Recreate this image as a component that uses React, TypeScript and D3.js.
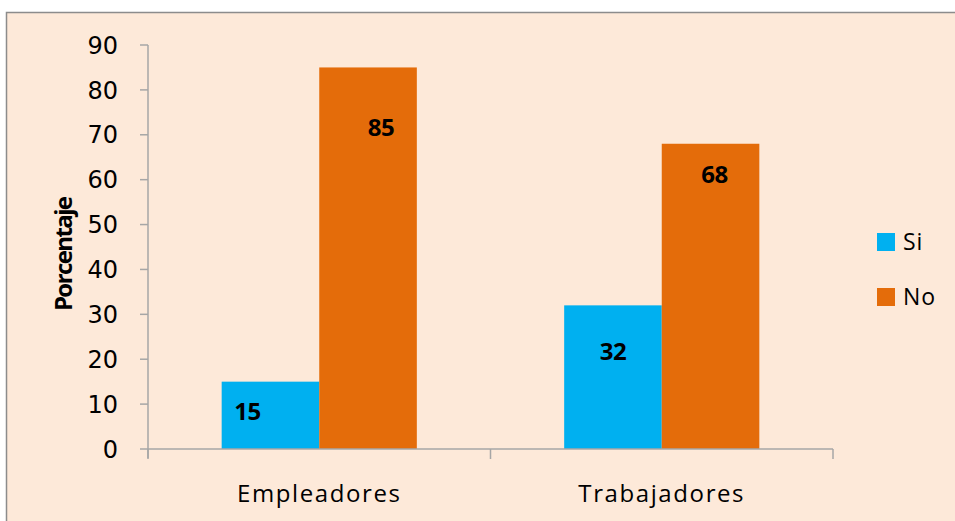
import React from "react";
import * as d3 from "d3";

const categories = ["Empleadores", "Trabajadores"];
const seriesNames = ["Si", "No"];
const siValues = [15, 32];
const noValues = [85, 68];
const yTicks = [0, 10, 20, 30, 40, 50, 60, 70, 80, 90];
const colors = ["#00B0F0", "#E46C0A"];
// manual label nudges (dx, dy below bar top), per [category][series]
const labelNudge = [
  [[-23, 30], [13, 60]],
  [[0, 46], [4, 31]],
];

export default function App() {
  const W = 955, H = 521;
  const x0 = 148, x1 = 833, yTop = 45, yBot = 449;
  const y = d3.scaleLinear().domain([0, 90]).range([yBot, yTop]);
  const xb = d3.scaleBand().domain(categories).range([x0, x1]).paddingInner(0).paddingOuter(0);
  const xs = d3.scaleBand().domain(seriesNames).range([0, xb.bandwidth()]).paddingInner(0).paddingOuter(0.755);
  const values = [siValues, noValues];
  return (
    <svg width={W} height={H} style={{ position: "absolute", left: 0, top: 0 }}>
      <rect x={6.5} y={12.5} width={W} height={H} fill="#FDE9D9" stroke="#8c8c8c" strokeWidth={1.5} />
      {/* bars */}
      {categories.map((c, ci) =>
        seriesNames.map((s, si) => {
          const v = values[si][ci];
          const bx = (xb(c) as number) + (xs(s) as number);
          return (
            <rect key={c + s} x={bx} y={y(v)} width={xs.bandwidth()} height={yBot - y(v)} fill={colors[si]} />
          );
        })
      )}
      {/* y axis */}
      <line x1={x0} x2={x0} y1={yTop} y2={458} stroke="#A6A6A6" strokeWidth={1.5} />
      {yTicks.map((t) => (
        <g key={t}>
          <line x1={140} x2={x0} y1={y(t)} y2={y(t)} stroke="#A6A6A6" strokeWidth={1.5} />
          <text x={118} y={y(t)} dy="0.36em" textAnchor="end" fontFamily="DejaVu Sans" fontSize={24} fill="#000">
            {t}
          </text>
        </g>
      ))}
      {/* x axis */}
      <line x1={x0} x2={x1} y1={yBot} y2={yBot} stroke="#A6A6A6" strokeWidth={1.5} />
      {[...categories.map((c) => xb(c) as number), x1].map((tx, i) => (
        <line key={i} x1={tx} x2={tx} y1={yBot} y2={459} stroke="#A6A6A6" strokeWidth={1.5} />
      ))}
      {categories.map((c) => (
        <text key={c} x={(xb(c) as number) + xb.bandwidth() / 2} y={494} dy="0.35em" textAnchor="middle"
          fontFamily="Open Sans" fontSize={24} letterSpacing={1.6} fill="#000">
          {c}
        </text>
      ))}
      {/* data labels */}
      {categories.map((c, ci) =>
        seriesNames.map((s, si) => {
          const v = values[si][ci];
          const bx = (xb(c) as number) + (xs(s) as number) + xs.bandwidth() / 2;
          const [dx, dy] = labelNudge[ci][si];
          return (
            <text key={"l" + c + s} x={bx + dx} y={y(v) + dy} dy="0.35em" textAnchor="middle"
              fontFamily="Open Sans" fontWeight="bold" fontSize={24} letterSpacing={-0.5} fill="#000">
              {v}
            </text>
          );
        })
      )}
      {/* y title */}
      <text transform={`translate(64,${y(30) - 60}) rotate(-90)`} textAnchor="middle" dy="0.35em"
        fontFamily="Open Sans" fontWeight="bold" fontSize={24} letterSpacing={-1.6} fill="#000">
        Porcentaje
      </text>
      {/* legend */}
      {seriesNames.map((s, i) => (
        <g key={s} transform={`translate(877,${233 + i * 55})`}>
          <rect width={18} height={18} fill={colors[i]} />
          <text x={26} y={9} dy="0.36em" fontFamily="Open Sans" fontSize={23} letterSpacing={1} fill="#000">
            {s}
          </text>
        </g>
      ))}
    </svg>
  );
}
